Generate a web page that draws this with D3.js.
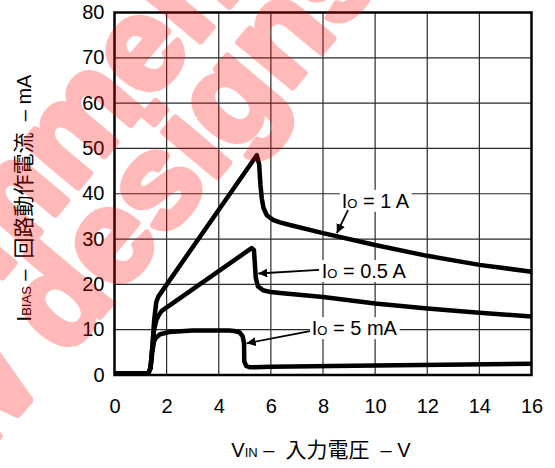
<!DOCTYPE html>
<html>
<head>
<meta charset="utf-8">
<script src="https://cdn.jsdelivr.net/npm/d3@7"></script>
<style>
  html, body { margin: 0; padding: 0; background: #fff; }
  svg { display: block; }
  text { font-family: "Liberation Sans", Arial, "Noto Sans CJK JP", sans-serif; fill: #000; }
  .pre { white-space: pre; }
  .cjk { font-family: "Noto Sans CJK JP", sans-serif; }
</style>
</head>
<body>
<svg id="chart" width="555" height="468"></svg>
<script>
// Bias current vs. input voltage for three load currents
const xTicks = [0, 2, 4, 6, 8, 10, 12, 14, 16];
const yTicks = [0, 10, 20, 30, 40, 50, 60, 70, 80];

// Io = 1 A
const vin1A   = [0, 1.3, 1.38, 1.45, 1.52, 1.6, 1.68, 5.46, 5.55, 5.6, 5.65, 5.72, 5.85, 6.1, 6.35, 6.73, 8, 10, 12, 14, 16];
const ibias1A = [0.4, 0.4, 1.5, 6, 12, 16, 17.3, 48.5, 46.5, 42, 39, 36.8, 35.2, 34.2, 33.7, 33.1, 31.3, 28.7, 26.3, 24.3, 22.8];

// Io = 0.5 A
const vin05A   = [0, 1.3, 1.38, 1.45, 1.52, 1.6, 1.68, 1.8, 5.26, 5.35, 5.38, 5.42, 5.5, 5.7, 6.0, 6.35, 8, 10, 12, 14, 16];
const ibias05A = [0.4, 0.4, 1.5, 6, 10, 12, 13.0, 14.1, 28.0, 27.6, 25, 21.5, 19.6, 18.7, 18.3, 18.1, 17.2, 15.8, 14.7, 13.75, 12.9];

// Io = 5 mA
const vin5mA   = [0, 1.3, 1.38, 1.45, 1.52, 1.6, 1.75, 2.1, 3, 4.4, 4.6, 4.8, 4.92, 4.97, 4.98, 5.05, 5.2, 6, 10, 16];
const ibias5mA = [0.4, 0.4, 1.5, 5, 7.5, 8.3, 9.0, 9.5, 9.8, 9.8, 9.7, 9.4, 8.5, 7, 3, 2.0, 1.7, 1.8, 2.1, 2.5];

// Callout labels: [text start V, baseline mA], leader [from V, mA] -> [to V, mA]
const labels = [
  { main: "I", sub: "O", rest: " = 1 A",   at: [8.72, 36.9], from: [8.96, 36.4], to: [8.53, 31.3] },
  { main: "I", sub: "O", rest: " = 0.5 A", at: [7.95, 21.4], from: [7.85, 23.2], to: [5.52, 22.4] },
  { main: "I", sub: "O", rest: " = 5 mA",  at: [7.57, 8.8],  from: [7.50, 9.7],  to: [5.07, 7.0] }
];

const svg = d3.select("#chart");
const plot = { left: 114.5, right: 531.5, top: 12.5, bottom: 375 };

const x = d3.scaleLinear().domain([0, 16]).range([plot.left, plot.right]);
const y = d3.scaleLinear().domain([0, 80]).range([plot.bottom, plot.top]);

// grid
const grid = svg.append("g").attr("stroke", "#2a2a2a").attr("stroke-width", 1.2);
grid.selectAll("line.v").data(xTicks.slice(1, -1)).join("line")
  .attr("x1", d => x(d)).attr("x2", d => x(d))
  .attr("y1", plot.top).attr("y2", plot.bottom);
grid.selectAll("line.h").data(yTicks.slice(1, -1)).join("line")
  .attr("y1", d => y(d)).attr("y2", d => y(d))
  .attr("x1", plot.left).attr("x2", plot.right);

// axes (labels only; frame drawn separately)
const xAxis = d3.axisBottom(x).tickValues(xTicks).tickSize(0).tickPadding(0);
const gx = svg.append("g").attr("transform", `translate(0,${plot.bottom})`).call(xAxis);
gx.select(".domain").remove();
gx.selectAll("text").attr("font-size", 20).attr("dy", null).attr("y", 38)
  .style("font-family", '"Liberation Sans", Arial, sans-serif');

const yAxis = d3.axisLeft(y).tickValues(yTicks).tickSize(0).tickPadding(0);
const gy = svg.append("g").attr("transform", `translate(${plot.left},0)`).call(yAxis);
gy.select(".domain").remove();
gy.selectAll("text").attr("font-size", 20).attr("x", -10).attr("dy", "0.3em")
  .style("font-family", '"Liberation Sans", Arial, sans-serif');

// curves
const line = d3.line().x(d => x(d[0])).y(d => y(d[1]));
const series = [
  d3.zip(vin1A, ibias1A),
  d3.zip(vin05A, ibias05A),
  d3.zip(vin5mA, ibias5mA)
];
svg.append("g").selectAll("path").data(series).join("path")
  .attr("d", line)
  .attr("fill", "none").attr("stroke", "#000").attr("stroke-width", 4.5)
  .attr("stroke-linejoin", "round").attr("stroke-linecap", "butt");

// frame
svg.append("rect")
  .attr("x", plot.left).attr("y", plot.top)
  .attr("width", plot.right - plot.left).attr("height", plot.bottom - plot.top)
  .attr("fill", "none").attr("stroke", "#000").attr("stroke-width", 2.5);

// callouts
const defs = svg.append("defs");
defs.append("marker").attr("id", "arrow")
  .attr("viewBox", "0 0 10 10").attr("refX", 10).attr("refY", 5)
  .attr("markerWidth", 9).attr("markerHeight", 9).attr("markerUnits", "userSpaceOnUse")
  .attr("orient", "auto")
  .append("path").attr("d", "M0,0 L10,5 L0,10 Z").attr("fill", "#000");

const callouts = svg.append("g");
labels.forEach(l => {
  const g = callouts.append("g");
  const bg = g.append("rect").attr("fill", "#fff");
  const t = g.append("text").attr("x", x(l.at[0])).attr("y", y(l.at[1])).attr("font-size", 20);
  t.append("tspan").text(l.main);
  t.append("tspan").attr("font-size", 13).text(l.sub);
  t.append("tspan").text(l.rest);
  const b = t.node().getBBox();
  bg.attr("x", b.x - 2).attr("y", b.y).attr("width", b.width + 4).attr("height", b.height);
  g.append("line")
    .attr("x1", x(l.from[0])).attr("y1", y(l.from[1]))
    .attr("x2", x(l.to[0])).attr("y2", y(l.to[1]))
    .attr("stroke", "#000").attr("stroke-width", 1.8)
    .attr("marker-end", "url(#arrow)");
});

// axis titles
const xt = svg.append("text").attr("class", "pre").attr("x", 321).attr("y", 457)
  .attr("text-anchor", "middle").attr("font-size", 20);
xt.append("tspan").text("V");
xt.append("tspan").attr("font-size", 13).text("IN");
xt.append("tspan").text(" –  ");
xt.append("tspan").attr("class", "cjk").attr("font-size", 21).text("入力電圧");
xt.append("tspan").text("  – V");

const yt = svg.append("text").attr("class", "pre").attr("transform", "translate(31,198) rotate(-90)")
  .attr("text-anchor", "middle").attr("font-size", 20);
yt.append("tspan").text("I");
yt.append("tspan").attr("font-size", 13).text("BIAS");
yt.append("tspan").text(" –  ");
yt.append("tspan").attr("class", "cjk").attr("font-size", 21).text("回路動作電流");
yt.append("tspan").text("  – mA");

// status overlay (heavy red lettering, composited as one translucent layer)
const wm = svg.append("g")
  .attr("transform", "translate(65,358) rotate(-50)")
  .attr("opacity", 0.27)
  .style("font-family", '"Liberation Sans", Arial, sans-serif')
  .attr("font-weight", "bold").attr("font-size", 132);
const wmText = (txt, tx, ty, anchor) => wm.append("text")
  .attr("class", "pre").attr("x", tx).attr("y", ty).attr("text-anchor", anchor)
  .style("fill", "#ff0000").style("stroke", "#ff0000").style("stroke-width", 7)
  .style("stroke-linejoin", "round").text(txt);
wmText("for new ", 0, 0, "end");
wmText("designs", 0, 0, "start");
wmText("Not recom", 130, -100, "end");
wmText("mended", 130, -100, "start");
</script>
</body>
</html>
